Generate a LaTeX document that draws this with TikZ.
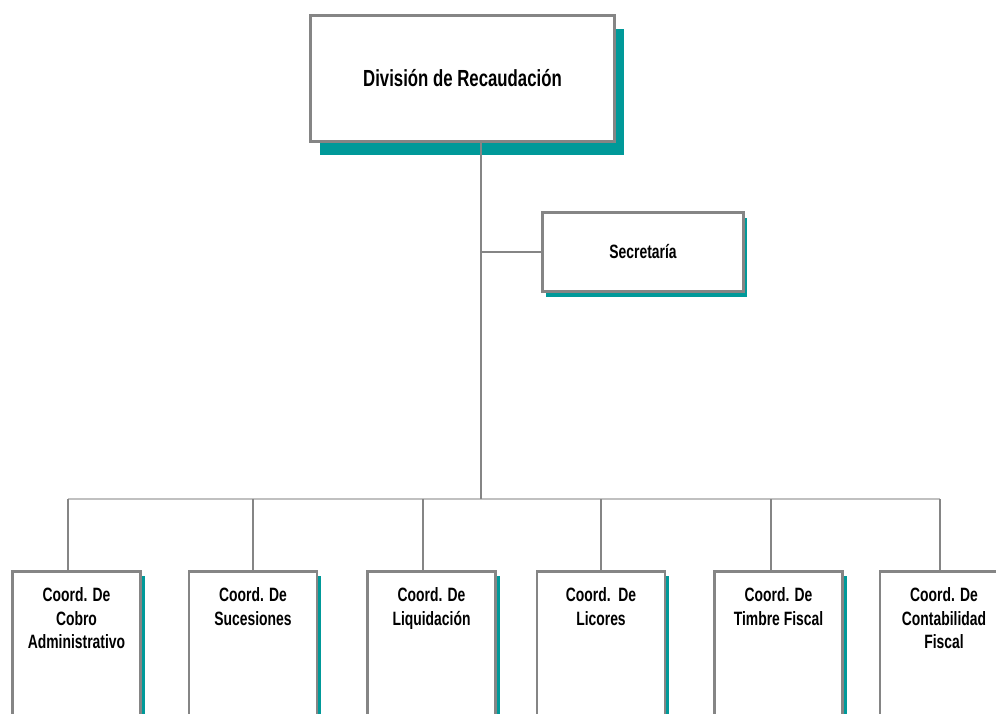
\documentclass[tikz,border=0pt]{standalone}
\usepackage{fontspec}
\usepackage{tikz}
\usetikzlibrary{shadows}
\newfontfamily\orgfont[FakeStretch=0.72]{Liberation Sans}
\definecolor{framegray}{HTML}{858585}
\definecolor{busgray}{HTML}{C0C0C0}
\definecolor{shadeteal}{HTML}{009999}
\newcommand\coordtext[1]{\parbox[t][150pt][t]{124pt}{\centering #1}}

\begin{document}
\begin{tikzpicture}[x=1pt, y=-1pt,
    unit/.style={rectangle, draw=framegray, line width=2.6pt, fill=white},
    coordbox/.style={unit, anchor=north, inner xsep=2pt, inner ysep=16pt,
      font=\orgfont\bfseries\fontsize{19.3}{23.5}\selectfont,
      drop shadow={shadow xshift=4pt, shadow yshift=-4pt, fill=shadeteal, opacity=1}},
    conn/.style={draw=framegray, line width=2.8pt},
    bus/.style={draw=busgray, line width=2.8pt}]
  \clip (0,0) rectangle (996,713);
  % head and secretary
  \node[unit, minimum width=304pt, minimum height=126pt,
    font=\orgfont\bfseries\fontsize{23.3}{28}\selectfont,
    drop shadow={shadow xshift=9pt, shadow yshift=-13pt, fill=shadeteal, opacity=1}]
    (div) at (462.5,78.5) {División de Recaudación};
  \node[unit, minimum width=201pt, minimum height=79pt,
    font=\orgfont\bfseries\fontsize{19.3}{23}\selectfont,
    drop shadow={shadow xshift=3pt, shadow yshift=-5pt, fill=shadeteal, opacity=1}]
    (sec) at (643,252) {Secretaría};
  % coordinations
  \node[coordbox] (b1) at (76.5,570.3) {\coordtext{Coord. De\\Cobro\\Administrativo}};
  \node[coordbox] (b2) at (253,570.3) {\coordtext{Coord. De\\Sucesiones}};
  \node[coordbox] (b3) at (431.5,570.3) {\coordtext{Coord. De\\Liquidación}};
  \node[coordbox] (b4) at (601,570.3) {\coordtext{Coord.\ \ De\\Licores}};
  \node[coordbox] (b5) at (778.5,570.3) {\coordtext{Coord. De\\Timbre Fiscal}};
  \node[coordbox] (b6) at (944,570.3) {\coordtext{Coord. De\\Contabilidad\\Fiscal}};
  \coordinate (t) at (481,499);
  \coordinate (d1) at (68,499);
  \coordinate (d2) at (253,499);
  \coordinate (d3) at (423,499);
  \coordinate (d4) at (601,499);
  \coordinate (d5) at (771,499);
  \coordinate (d6) at (940,499);
  % lines
  \draw[bus] (d1) -- (d6);
  \draw[conn] (t |- div.south) -- (t);
  \draw[conn] (t |- sec.west) -- (sec.west);
  \draw[conn] (d1) -- (d1 |- b1.north);
  \draw[conn] (d2) -- (d2 |- b2.north);
  \draw[conn] (d3) -- (d3 |- b3.north);
  \draw[conn] (d4) -- (d4 |- b4.north);
  \draw[conn] (d5) -- (d5 |- b5.north);
  \draw[conn] (d6) -- (d6 |- b6.north);
\end{tikzpicture}
\end{document}
